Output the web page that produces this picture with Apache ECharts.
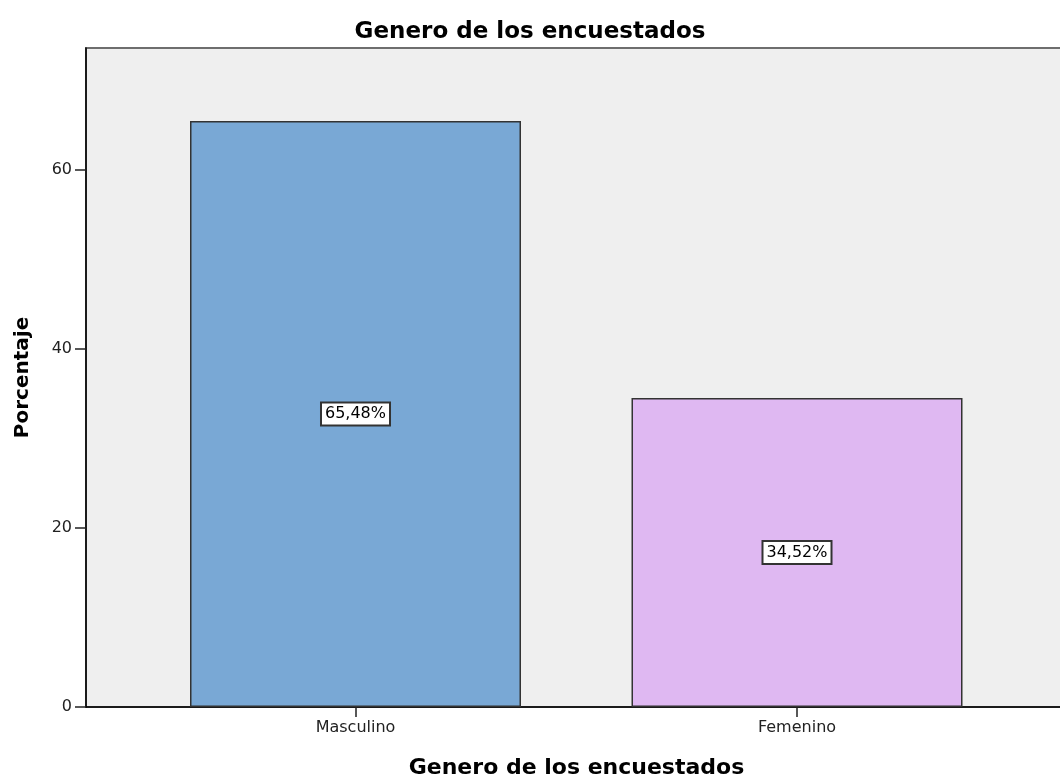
<!DOCTYPE html>
<html>
<head>
<meta charset="utf8">
<script src="https://cdn.jsdelivr.net/npm/echarts@6/dist/echarts.min.js"></script>
<style>
  html, body { margin: 0; padding: 0; background: #fff; }
  #main { width: 1060px; height: 781px; }
</style>
</head>
<body>
<div id="main"></div>
<script>
var categories = ['Masculino', 'Femenino'];
var percentages = [65.48, 34.52];
var barColors = ['#79a8d5', '#dfb8f2'];
var yTicks = [0, 20, 40, 60];

var chart = echarts.init(document.getElementById('main'));

var barData = percentages.map(function (v, i) {
    return { value: v, itemStyle: { color: barColors[i] } };
});

var option = {
    animation: false,
    textStyle: { fontFamily: 'DejaVu Sans, sans-serif' },
    title: {
        text: 'Genero de los encuestados',
        left: 'center',
        top: 16,
        textStyle: { fontSize: 23, fontWeight: 'bold', color: '#000', fontFamily: 'DejaVu Sans' }
    },
    grid: [
        // bars
        { left: 134.75, right: 42.25, top: 48, bottom: 74, show: false,
          outerBoundsMode: 'none', containLabel: false },
        // plot frame / background
        { left: 86, right: -7, top: 48, bottom: 74, show: true,
          outerBoundsMode: 'none', containLabel: false,
          backgroundColor: '#efefef', borderColor: '#6e6e6e', borderWidth: 2 }
    ],
    xAxis: [
        {
            gridIndex: 0,
            type: 'category',
            data: categories,
            axisLine: { show: false },
            axisTick: { show: true, alignWithLabel: true, length: 10,
                        lineStyle: { color: '#222', width: 1.5 } },
            axisLabel: { color: '#222', fontSize: 16, margin: 13 },
            splitLine: { show: false }
        },
        {
            gridIndex: 1,
            type: 'value',
            min: 0,
            max: 1,
            axisLine: { show: true, lineStyle: { color: '#000', width: 1.5 } },
            axisTick: { show: false },
            axisLabel: { show: false },
            splitLine: { show: false },
            name: 'Genero de los encuestados',
            nameLocation: 'middle',
            nameGap: 50,
            nameTextStyle: { fontSize: 22, fontWeight: 'bold', color: '#000' }
        }
    ],
    yAxis: [
        {
            gridIndex: 0,
            type: 'value',
            min: 0,
            max: 73.63,
            show: false,
            splitLine: { show: false }
        },
        {
            gridIndex: 1,
            type: 'value',
            min: 0,
            max: 73.63,
            axisLine: { show: true, lineStyle: { color: '#000', width: 1.5 } },
            axisTick: { show: true, length: 11, customValues: yTicks,
                        lineStyle: { color: '#222', width: 1.5 } },
            axisLabel: { color: '#222', fontSize: 16, margin: 14, customValues: yTicks },
            splitLine: { show: false },
            name: 'Porcentaje',
            nameLocation: 'middle',
            nameGap: 53,
            nameTextStyle: { fontSize: 20, fontWeight: 'bold', color: '#000' }
        }
    ],
    series: [
        {
            type: 'bar',
            xAxisIndex: 0,
            yAxisIndex: 0,
            data: barData,
            barWidth: 331,
            itemStyle: { borderColor: '#333', borderWidth: 1.5 },
            label: {
                show: true,
                position: 'inside',
                formatter: function (p) {
                    return p.value.toFixed(2).replace('.', ',') + '%';
                },
                color: '#000',
                fontSize: 16,
                backgroundColor: '#fff',
                borderColor: '#333',
                borderWidth: 2,
                padding: [3, 3, 2, 3]
            }
        }
    ]
};

chart.setOption(option);
</script>
</body>
</html>
